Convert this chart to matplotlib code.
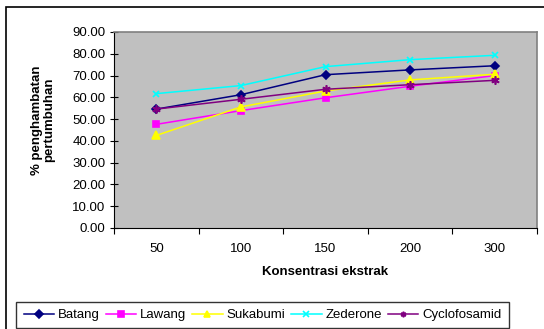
import matplotlib.pyplot as plt
import numpy as np
from matplotlib.patches import Rectangle

plt.rcParams["font.family"] = ["Liberation Sans", "DejaVu Sans"]

# ---------- data ----------
konsentrasi = ["50", "100", "150", "200", "300"]
batang = [54.6, 61.2, 70.4, 72.6, 74.5]
lawang = [47.6, 53.9, 59.8, 65.1, 70.0]
sukabumi = [42.5, 55.6, 62.9, 68.0, 70.6]
zederone = [61.7, 65.4, 74.1, 77.3, 79.3]
cyclofosamid = [54.6, 59.1, 63.7, 65.8, 67.8]

series = [
    ("Batang", batang, "#000080", "D", 4.5),
    ("Lawang", lawang, "#FF00FF", "s", 5),
    ("Sukabumi", sukabumi, "#FFFF00", "^", 6),
    ("Zederone", zederone, "#00FFFF", "x", 5),
    ("Cyclofosamid", cyclofosamid, "#800080", (6, 2, 0), 6),
]

W, H = 544, 329
FS = 9.5
fig = plt.figure(figsize=(W / 100, H / 100), dpi=100)

# outer chart frame
fig.patches.append(Rectangle((6 / W, -0.01), 1.02, 1 - 7 / H + 0.01,
                             transform=fig.transFigure, fill=False,
                             edgecolor="black", linewidth=1.2))

ax = fig.add_axes([114 / W, 1 - 228 / H, (537 - 114) / W, (228 - 32) / H])
ax.set_facecolor("#C0C0C0")
x = np.arange(len(konsentrasi))
for name, vals, col, mk, ms in series:
    ax.plot(x, vals, color=col, marker=mk, markersize=ms, linewidth=1.1,
            markeredgecolor=col, markerfacecolor=col, markeredgewidth=1.2,
            label=name)

ax.set_xlim(-0.5, len(konsentrasi) - 0.5)
ax.set_ylim(0, 90)
ax.set_yticks(np.arange(0, 91, 10))
ax.set_yticklabels([f"{v:.2f}" for v in np.arange(0, 91, 10)])
ax.set_xticks(np.arange(-0.5, len(konsentrasi), 1.0))
ax.set_xticklabels([])
ax.set_xticks(x, minor=True)
ax.set_xticklabels(konsentrasi, minor=True)
ax.tick_params(axis="x", which="minor", length=0, pad=11, labelsize=FS)
ax.tick_params(axis="x", which="major", direction="out", length=4)
ax.tick_params(axis="y", direction="inout", length=6, labelsize=FS, pad=3)

for s in ["top", "right"]:
    ax.spines[s].set_color("#808080")
    ax.spines[s].set_linewidth(1.2)
for s in ["left", "bottom"]:
    ax.spines[s].set_color("black")

ax.set_xlabel("Konsentrasi ekstrak", fontsize=FS, fontweight="bold", labelpad=8)
ax.set_ylabel("% penghambatan\npertumbuhan", fontsize=FS, fontweight="bold",
              linespacing=1.0)
ax.yaxis.set_label_coords(-0.139, 0.55)

leg = fig.legend(loc="center", bbox_to_anchor=(262.5 / W, 1 - 315 / H),
                 ncol=5, fontsize=FS, frameon=True,
                 fancybox=False, edgecolor="black", handlelength=2.3,
                 handletextpad=0.3, columnspacing=0.45, borderaxespad=0,
                 borderpad=0.55)
leg.get_frame().set_linewidth(1.0)
for h in leg.legend_handles:
    h.set_markersize(4)

fig.savefig("out.png", dpi=100)
